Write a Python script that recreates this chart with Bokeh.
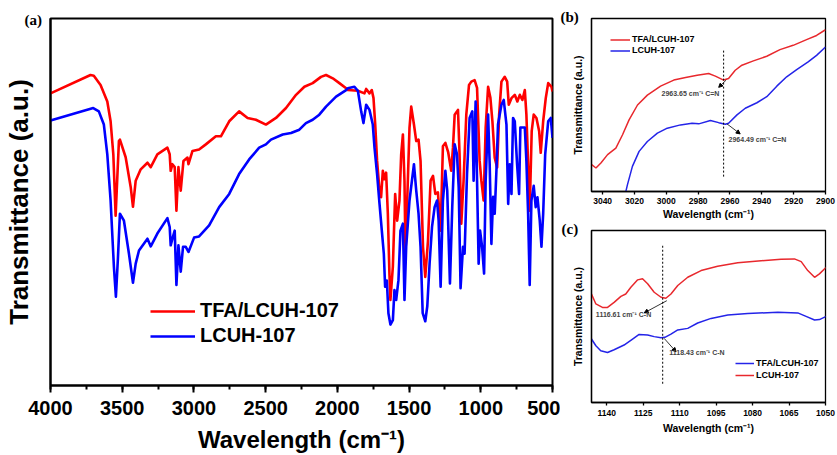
from bokeh.plotting import figure
from bokeh.layouts import row, column
from bokeh.models import (Range1d, SingleIntervalTicker, FixedTicker, Legend, LegendItem,
                          Label, Arrow, NormalHead, Title)
from bokeh.embed import file_html
from bokeh.resources import INLINE

# ---------------- data: panel (a) full FTIR spectra ----------------
wn_a_tfa = [4000, 3721, 3698, 3651, 3604, 3581, 3562, 3546, 3523, 3516, 3476, 3441, 3425, 3406, 3371,
            3324, 3301, 3255, 3185, 3169, 3162, 3150, 3134, 3122, 3108, 3092, 3073, 3045, 3038, 3010,
            2964, 2917, 2847, 2812, 2754, 2685, 2626, 2568, 2498, 2428, 2358, 2288, 2230, 2172, 2114,
            2079, 2032, 1986, 1939, 1927, 1857, 1811, 1799, 1776, 1760, 1748, 1736, 1723, 1706, 1695,
            1683, 1672, 1660, 1648, 1637, 1630, 1613, 1597, 1583, 1567, 1555, 1543, 1532, 1525, 1513,
            1497, 1485, 1466, 1450, 1434, 1420, 1403, 1387, 1368, 1350, 1333, 1317, 1299, 1280, 1264,
            1247, 1227, 1206, 1194, 1182, 1159, 1148, 1136, 1120, 1101, 1082, 1066, 1043, 1026, 1017,
            1008, 996, 980, 966, 949, 933, 919, 903, 886, 872, 856, 833, 816, 805, 786,
            763, 745, 728, 710, 693, 682, 670, 659, 645, 631, 612, 593, 582, 565, 547,
            530, 507, 500]
t_a_tfa = [79.6, 84.6, 84.4, 81.9, 77.4, 72.0, 63.0, 46.3, 66.6, 67.0, 62.2, 54.1, 48.7, 55.8, 58.9,
           60.7, 59.5, 63.0, 64.8, 63.0, 58.5, 60.3, 59.5, 47.6, 59.5, 53.1, 61.2, 62.1, 60.3, 63.9,
           64.3, 65.7, 67.9, 67.9, 72.0, 74.7, 72.9, 72.4, 71.1, 72.9, 75.6, 79.2, 81.4, 82.4, 84.1,
           84.6, 83.7, 82.4, 81.0, 80.5, 80.3, 79.6, 80.8, 79.6, 80.5, 78.3, 71.1, 61.2, 53.1, 51.3,
           58.5, 56.2, 58.0, 46.8, 30.5, 23.3, 32.4, 52.2, 44.9, 50.4, 63.0, 68.4, 55.8, 35.9, 50.4,
           70.2, 76.0, 71.1, 66.6, 67.0, 61.2, 37.8, 29.6, 39.5, 55.8, 57.1, 52.2, 52.6, 42.2, 65.2,
           66.1, 63.5, 58.5, 64.8, 73.8, 75.1, 63.0, 44.1, 55.8, 73.8, 81.9, 82.8, 83.2, 81.1, 71.1,
           61.2, 55.8, 50.4, 70.3, 81.4, 78.4, 72.0, 62.1, 59.4, 73.8, 82.8, 84.1, 82.8, 76.5, 78.3,
           79.2, 77.4, 79.2, 77.8, 80.5, 73.8, 60.3, 47.6, 69.3, 73.8, 72.9, 69.3, 63.4, 72.0, 78.3,
           82.4, 81.4, 80.1]

wn_a_lcuh = [4000, 3702, 3663, 3628, 3604, 3581, 3558, 3544, 3530, 3516, 3488, 3453, 3425, 3406, 3383,
             3324, 3301, 3255, 3185, 3169, 3162, 3150, 3134, 3122, 3108, 3092, 3076, 3057, 3038, 2999,
             2964, 2894, 2824, 2754, 2685, 2615, 2545, 2498, 2463, 2381, 2323, 2265, 2219, 2172, 2126,
             2079, 2009, 1939, 1927, 1881, 1857, 1834, 1818, 1799, 1776, 1753, 1741, 1723, 1706, 1690,
             1676, 1667, 1655, 1644, 1630, 1613, 1602, 1590, 1574, 1560, 1543, 1532, 1520, 1497, 1480,
             1466, 1450, 1434, 1420, 1405, 1387, 1373, 1357, 1340, 1322, 1305, 1294, 1280, 1264, 1247,
             1234, 1215, 1199, 1182, 1166, 1154, 1141, 1124, 1113, 1096, 1078, 1059, 1050, 1036, 1026,
             1015, 1005, 991, 977, 966, 949, 938, 926, 914, 903, 891, 880, 856, 840, 821,
             809, 798, 786, 775, 763, 747, 733, 724, 710, 693, 682, 670, 659, 647, 631,
             617, 605, 589, 577, 565, 551, 530, 512, 500]
t_a_lcuh = [72.2, 75.6, 74.7, 71.1, 63.0, 50.4, 32.4, 24.2, 34.6, 46.8, 44.9, 35.9, 28.0, 33.2, 36.8,
            40.0, 37.9, 41.4, 45.6, 43.2, 38.2, 40.0, 42.2, 27.4, 38.2, 31.0, 37.8, 37.8, 36.4, 40.3,
            40.6, 43.6, 48.6, 52.2, 57.6, 61.6, 64.8, 65.7, 67.0, 68.4, 68.8, 69.7, 71.5, 72.4, 73.8,
            76.0, 78.7, 80.5, 81.0, 81.4, 80.3, 74.7, 71.5, 76.5, 75.1, 71.1, 64.8, 57.6, 49.5, 42.2,
            35.9, 26.9, 28.6, 19.7, 16.6, 17.8, 26.0, 23.3, 28.7, 42.2, 44.1, 23.3, 37.8, 50.4, 55.8,
            60.3, 53.1, 46.8, 37.8, 19.7, 17.5, 21.6, 33.2, 43.2, 48.6, 50.4, 45.0, 26.9, 50.4, 58.5,
            53.1, 27.8, 48.6, 65.7, 63.0, 54.0, 26.5, 37.8, 35.9, 57.6, 72.9, 74.7, 55.8, 77.4, 55.8,
            33.2, 42.2, 37.8, 30.5, 55.8, 73.8, 60.3, 38.6, 51.4, 46.8, 58.5, 71.1, 76.5, 77.8, 71.1,
            49.5, 60.3, 52.2, 72.9, 72.0, 60.3, 52.2, 70.3, 70.3, 70.3, 61.2, 46.8, 27.4, 50.4, 54.4,
            48.6, 51.3, 45.0, 37.8, 46.8, 63.0, 72.0, 72.9, 67.5]

# ---------------- data: panel (b) 3047-2900 cm-1 ----------------
wn_b_tfa = [3046.9, 3044.2, 3041.1, 3036.9, 3031.7, 3027.5, 3023.4, 3018.1, 3011.9, 3003.6, 2995.3,
            2987.9, 2980.6, 2973.4, 2969.2, 2964.0, 2960.9, 2956.7, 2952.5, 2945.3, 2936.9, 2928.6,
            2920.3, 2911.9, 2905.6, 2900.0]
t_b_tfa = [15.5, 13.6, 16.5, 21.3, 25.1, 32.8, 41.4, 50.0, 55.7, 60.9, 64.4,
           65.9, 67.2, 68.2, 66.7, 64.4, 65.3, 70.1, 73.0, 75.5, 78.2, 82.0,
           84.5, 87.8, 90.2, 93.5]
wn_b_lcuh = [3026.1, 3024.4, 3021.3, 3017.1, 3011.9, 3005.6, 2999.4, 2991.1, 2983.8, 2979.6, 2972.3,
             2967.1, 2962.9, 2960.9, 2955.6, 2950.4, 2943.1, 2936.9, 2930.6, 2924.4, 2918.1, 2910.9,
             2905.6, 2900.0]
t_b_lcuh = [-2.7, 4.0, 14.5, 23.2, 28.9, 33.7, 36.6, 38.5, 39.5, 39.1, 41.0,
            39.8, 38.9, 39.5, 44.3, 48.1, 51.3, 54.8, 60.9, 66.3, 70.5, 74.9,
            78.7, 83.5]

# ---------------- data: panel (c) 1146-1050 cm-1 ----------------
wn_c_upper = [1146.3, 1144.5, 1141.8, 1139.7, 1137.0, 1134.2, 1132.2, 1130.1, 1127.3, 1125.3, 1123.2,
              1120.5, 1117.7, 1115.7, 1113.6, 1110.8, 1106.7, 1101.2, 1094.4, 1086.1, 1076.5, 1068.3,
              1062.8, 1060.0, 1057.3, 1054.5, 1052.5, 1049.7]
t_c_upper = [63.1, 57.3, 55.3, 55.3, 58.2, 61.7, 63.1, 67.0, 71.3, 71.9, 69.0,
             64.1, 61.2, 60.6, 63.1, 68.0, 72.8, 76.7, 79.2, 81.2, 82.4, 83.3,
             83.5, 81.9, 76.7, 72.8, 74.8, 78.6]
wn_c_lower = [1146.3, 1144.5, 1142.5, 1139.7, 1137.0, 1132.9, 1129.4, 1126.7, 1123.2, 1120.5, 1117.7,
              1116.1, 1113.6, 1110.8, 1106.7, 1102.6, 1097.1, 1090.2, 1082.0, 1069.6, 1061.4, 1058.0,
              1054.5, 1052.5, 1049.7]
t_c_lower = [36.9, 33.0, 30.1, 29.1, 30.7, 33.4, 36.9, 39.6, 39.3, 38.3, 37.7,
             37.9, 39.8, 42.2, 43.1, 46.2, 48.9, 50.9, 51.8, 52.4, 52.1, 50.1,
             48.0, 48.2, 50.1]

label_tfa = "TFA/LCUH-107"
label_lcuh = "LCUH-107"
xlabel = "Wavelength (cm\u207b\u00b9)"
ylabel = "Transmittance (a.u.)"

# annotations (b): band marker, arrows and texts
b_mark_wn = 2964.0
b_mark_t = (8.6, 81.6)
b_notes = [("2963.65 cm\u207b\u00b9 C=N", 3003.0, 56.7, (2962.4, 64.4, 2967.1, 60.2)),
           ("2964.49 cm\u207b\u00b9 C=N", 2960.9, 30.3, (2961.9, 39.1, 2953.6, 33.3))]
# annotations (c)
c_mark_wn = 1117.0
c_mark_t = (10.9, 91.3)
c_notes = [("1116.61 cm\u207b\u00b9 C-N", 1144.5, 50.9, (1115.3, 59.2, 1124.6, 52.1)),
           ("1118.43 cm\u207b\u00b9 C-N", 1114.3, 28.8, (1116.4, 37.3, 1111.5, 29.5))]

SANS = "Liberation Sans"
SERIF = "Liberation Serif"
RED_A, BLUE_A = "#ff0000", "#0000ff"
RED_S, BLUE_S = "#e8282d", "#2424e8"


def style_axes(p, tick_size, label_size, tick_out, minor_out, lw, label_standoff, tick_standoff):
    ax = p.xaxis[0]
    ax.axis_label = xlabel
    ax.axis_label_text_font = SANS
    ax.axis_label_text_font_style = "bold"
    ax.axis_label_text_font_size = label_size
    ax.axis_label_text_color = "black"
    ax.axis_label_standoff = label_standoff
    ax.major_label_text_font = SANS
    ax.major_label_text_font_style = "bold"
    ax.major_label_text_font_size = tick_size
    ax.major_label_text_color = "black"
    ax.major_label_standoff = tick_standoff
    ax.major_tick_out = tick_out
    ax.major_tick_in = 0
    ax.minor_tick_out = minor_out
    ax.minor_tick_in = 0
    ax.axis_line_width = lw
    ax.major_tick_line_width = lw
    ax.minor_tick_line_width = lw
    p.grid.visible = False
    p.outline_line_color = "black"
    p.outline_line_width = lw
    p.outline_line_alpha = 1
    p.background_fill_color = "white"
    p.border_fill_color = "white"


def style_yaxis(p, label_size, standoff, lw):
    ax = p.yaxis[0]
    ax.ticker = FixedTicker(ticks=[])
    ax.axis_label = ylabel
    ax.axis_label_text_font = SANS
    ax.axis_label_text_font_style = "bold"
    ax.axis_label_text_font_size = label_size
    ax.axis_label_text_color = "black"
    ax.axis_label_standoff = standoff
    ax.major_label_text_font_size = "0px"
    ax.major_tick_out = 0
    ax.minor_tick_out = 0
    ax.axis_line_width = lw


def panel_tag(p, txt, offset, standoff):
    p.add_layout(Title(text=txt, align="left", offset=offset, standoff=standoff,
                       text_font=SERIF, text_font_style="bold", text_font_size="15px",
                       text_color="black"), "above")


# ---------------- panel (a) ----------------
pa = figure(width=560, height=455, output_backend="svg", toolbar_location=None,
            x_range=Range1d(4000, 500), y_range=Range1d(0, 100),
            min_border_left=50, min_border_right=8, min_border_top=18, min_border_bottom=67)
ra = pa.line(wn_a_tfa, t_a_tfa, line_color=RED_A, line_width=2.6, line_join="round")
ba = pa.line(wn_a_lcuh, t_a_lcuh, line_color=BLUE_A, line_width=2.6, line_join="round")
pa.xaxis[0].ticker = SingleIntervalTicker(interval=500, num_minor_ticks=2)
style_axes(pa, "20px", "24px", 7, 4, 2, 8, 8)
style_yaxis(pa, "26px", 17, 2)
leg_a = Legend(items=[LegendItem(label=label_tfa, renderers=[ra]),
                      LegendItem(label=label_lcuh, renderers=[ba])],
               location=(100, 38), glyph_width=45, glyph_height=20, label_height=20,
               label_standoff=5, spacing=2, padding=0, margin=0,
               border_line_alpha=0, background_fill_alpha=0,
               label_text_font=SANS, label_text_font_style="bold", label_text_font_size="20px",
               label_text_color="black")
pa.add_layout(leg_a)
panel_tag(pa, "(a)", -26, -18)

# ---------------- panel (b) ----------------
pb = figure(width=277, height=222, output_backend="svg", toolbar_location=None,
            x_range=Range1d(3047, 2900), y_range=Range1d(0, 100),
            min_border_left=31, min_border_right=11, min_border_top=18, min_border_bottom=30)
rb = pb.line(wn_b_tfa, t_b_tfa, line_color=RED_S, line_width=1.5)
bb = pb.line(wn_b_lcuh, t_b_lcuh, line_color=BLUE_S, line_width=1.5)
pb.xaxis[0].ticker = SingleIntervalTicker(interval=20, num_minor_ticks=2)
style_axes(pb, "8.5px", "10.5px", 3, 0, 1.3, 1, 3)
style_yaxis(pb, "10.5px", 8, 1.3)
pb.segment(x0=[b_mark_wn], y0=[b_mark_t[0]], x1=[b_mark_wn], y1=[b_mark_t[1]],
           line_color="black", line_width=1, line_dash="2 2")
for txt, tx, ty, (xs, ys, xe, ye) in b_notes:
    pb.add_layout(Arrow(end=NormalHead(size=4, fill_color="black", line_color="black"),
                        x_start=xs, y_start=ys, x_end=xe, y_end=ye, line_width=0.8))
    pb.add_layout(Label(x=tx, y=ty, text=txt, text_font=SANS, text_font_style="bold",
                        text_font_size="7px", text_baseline="middle", text_align="left"))
leg_b = Legend(items=[LegendItem(label=label_tfa, renderers=[rb]),
                      LegendItem(label=label_lcuh, renderers=[bb])],
               location=(19, 136), glyph_width=20, glyph_height=9, label_height=9,
               label_standoff=2, spacing=1, padding=0, margin=0,
               border_line_alpha=0, background_fill_alpha=0,
               label_text_font=SANS, label_text_font_style="bold", label_text_font_size="9px",
               label_text_color="black")
pb.add_layout(leg_b)
panel_tag(pb, "(b)", -31, -12)

# ---------------- panel (c) ----------------
pc = figure(width=277, height=233, output_backend="svg", toolbar_location=None,
            x_range=Range1d(1146.3, 1050), y_range=Range1d(0, 100),
            min_border_left=31, min_border_right=12, min_border_top=8, min_border_bottom=53)
bc = pc.line(wn_c_lower, t_c_lower, line_color=BLUE_S, line_width=1.5)
rc = pc.line(wn_c_upper, t_c_upper, line_color=RED_S, line_width=1.5)
pc.xaxis[0].ticker = SingleIntervalTicker(interval=15, num_minor_ticks=0)
style_axes(pc, "8.5px", "10.5px", 3, 0, 1.3, 3, 4)
style_yaxis(pc, "10.5px", 8, 1.3)
pc.segment(x0=[c_mark_wn], y0=[c_mark_t[0]], x1=[c_mark_wn], y1=[c_mark_t[1]],
           line_color="black", line_width=1, line_dash="2 2")
for txt, tx, ty, (xs, ys, xe, ye) in c_notes:
    pc.add_layout(Arrow(end=NormalHead(size=4, fill_color="black", line_color="black"),
                        x_start=xs, y_start=ys, x_end=xe, y_end=ye, line_width=0.8))
    pc.add_layout(Label(x=tx, y=ty, text=txt, text_font=SANS, text_font_style="bold",
                        text_font_size="7px", text_baseline="middle", text_align="left"))
# legend in (c): blue labelled TFA/LCUH-107, red labelled LCUH-107 (as in the source figure)
leg_c = Legend(items=[LegendItem(label=label_tfa, renderers=[bc]),
                      LegendItem(label=label_lcuh, renderers=[rc])],
               location=(144, 22), glyph_width=19, glyph_height=10, label_height=10,
               label_standoff=2, spacing=2, padding=0, margin=0,
               border_line_alpha=0, background_fill_alpha=0,
               label_text_font=SANS, label_text_font_style="bold", label_text_font_size="9px",
               label_text_color="black")
pc.add_layout(leg_c)
panel_tag(pc, "(c)", -30, -13)

layout = row(pa, column(pb, pc, spacing=0), spacing=0)
open("out.html", "w").write(file_html(layout, INLINE))
